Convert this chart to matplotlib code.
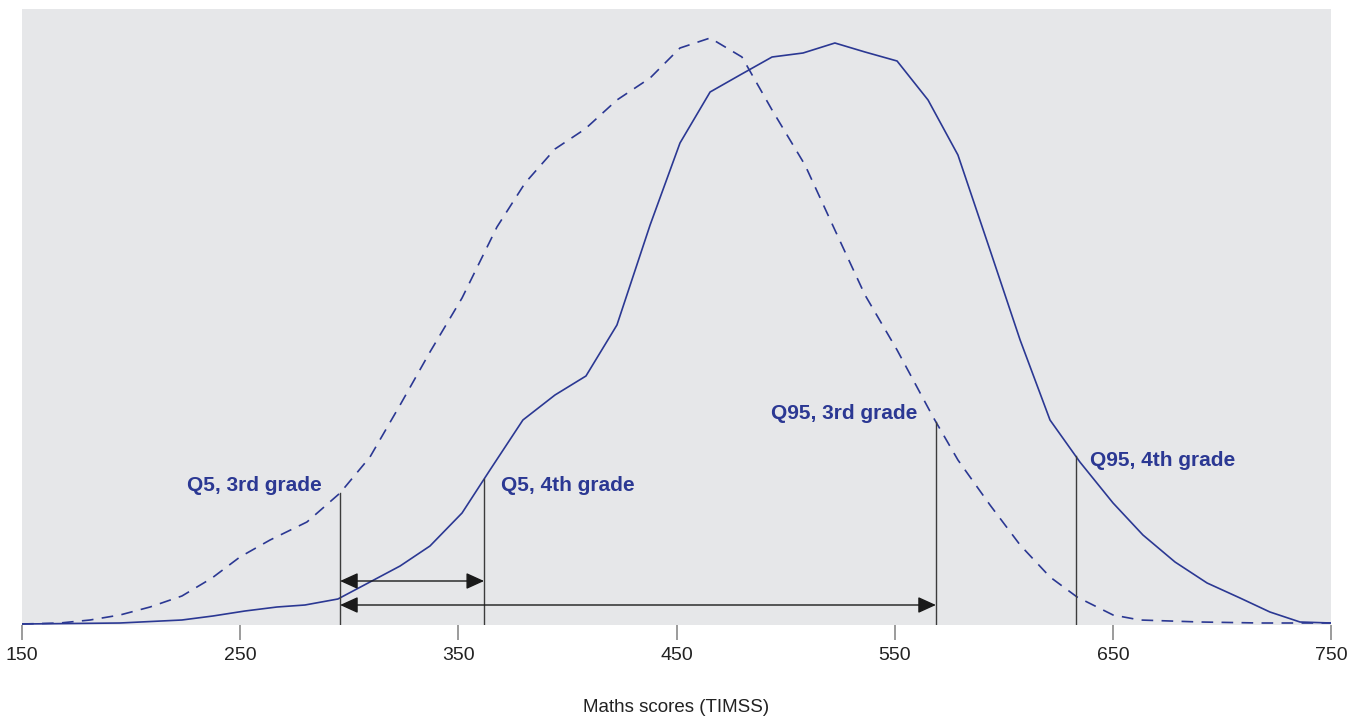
import numpy as np
import matplotlib
matplotlib.use("Agg")
import matplotlib.pyplot as plt

# score distribution (relative frequency, arbitrary units)
grade4_x = [150, 194.9, 223.3, 237.5, 252.2, 266.9, 279.7, 294.8, 309.5, 323.3, 337.0,
            351.7, 364.5, 379.6, 394.3, 408.5, 422.7, 437.9, 451.6, 465.4, 479.1, 493.8,
            508.0, 522.6, 536.4, 551.1, 565.3, 579.0, 593.7, 607.5, 621.2, 634.9, 650.1,
            663.8, 678.5, 693.2, 708.3, 722.0, 735.8, 750]
grade4_y = [1, 2, 5, 9, 14, 18, 20, 26, 43, 59, 79,
            112, 155, 205, 230, 249, 300, 400, 482, 533, 550, 568,
            572, 582, 573, 564, 525, 470, 375, 285, 205, 163, 122,
            90, 63, 42, 27, 13, 3, 2]

grade3_x = [150, 167.4, 181.2, 194.9, 208.7, 223.3, 237.1, 249.9, 263.7, 280.6, 295.8,
            309.5, 323.3, 337.0, 351.7, 367.7, 380.6, 394.3, 408.1, 422.7, 437.9, 451.6,
            465.4, 480.0, 493.8, 508.9, 522.6, 536.4, 551.1, 567.6, 579.0, 593.7, 607.5,
            621.2, 633.6, 650.1, 662.4, 690.0, 717.5, 750]
grade3_y = [1, 2, 5, 10, 18, 29, 47, 68, 85, 103, 132,
            168, 220, 273, 327, 398, 442, 476, 496, 525, 547, 577,
            587, 568, 515, 460, 395, 330, 275, 208, 165, 120, 80,
            48, 28, 10, 5, 3, 2, 2]

q5_3rd, q5_4th = 295.8, 361.8
q95_3rd, q95_4th = 568.9, 633.0
labels = ["Q5, 3rd grade", "Q5, 4th grade", "Q95, 3rd grade", "Q95, 4th grade"]
ticks = [150, 250, 350, 450, 550, 650, 750]

blue = "#2b3893"
plt.rcParams["font.family"] = ["Liberation Sans", "DejaVu Sans"]

fig = plt.figure(figsize=(13.54, 7.17), dpi=100)
ax = fig.add_axes([22 / 1354, 92 / 717, 1309 / 1354, 616 / 717])
ax.set_facecolor("#e6e7e9")

ax.plot(grade4_x, grade4_y, color=blue, lw=1.2)
ax.plot(grade3_x, grade3_y, color=blue, lw=1.2, dashes=(7, 5))

# quantile markers, up to the curve
marks = [(q5_3rd, grade3_x, grade3_y), (q5_4th, grade4_x, grade4_y),
         (q95_3rd, grade3_x, grade3_y), (q95_4th, grade4_x, grade4_y)]
for q, xs, ys in marks:
    top = np.interp(q, xs, ys)
    ax.plot([q, q], [0, top], color="#3c3c3c", lw=1)

# labels
offs = [(-13, -1, "right"), (12, -1, "left"), (-13, -1, "right"), (10, -4, "left")]
base = [135, 135, 207, 165]
for (q, _, _), lab, (dx, dy, ha), b in zip(marks, labels, offs, base):
    ax.annotate(lab, (q, b), xytext=(dx, dy), textcoords="offset points",
                ha=ha, va="baseline", color=blue, fontsize=15, fontweight="bold")

arrow = dict(arrowstyle="<|-|>,head_length=0.55,head_width=0.25",
             color="#1a1a1a", lw=1, shrinkA=0, shrinkB=0, mutation_scale=20)
ax.annotate("", xy=(q5_4th, 44), xytext=(q5_3rd, 44), arrowprops=arrow)
ax.annotate("", xy=(q95_3rd, 20), xytext=(q5_3rd, 20), arrowprops=arrow)

ax.set_xlim(150, 750)
ax.set_ylim(0, 616)
ax.set_xticks(ticks)
ax.set_yticks([])
ax.tick_params(axis="x", length=11, width=1.1, color="#808080", pad=5,
               labelsize=14, labelcolor="#222222")
for s in ax.spines.values():
    s.set_visible(False)
ax.set_xlabel("Maths scores (TIMSS)", fontsize=13.5, color="#222222", labelpad=25)

fig.savefig("out.png", dpi=100)
